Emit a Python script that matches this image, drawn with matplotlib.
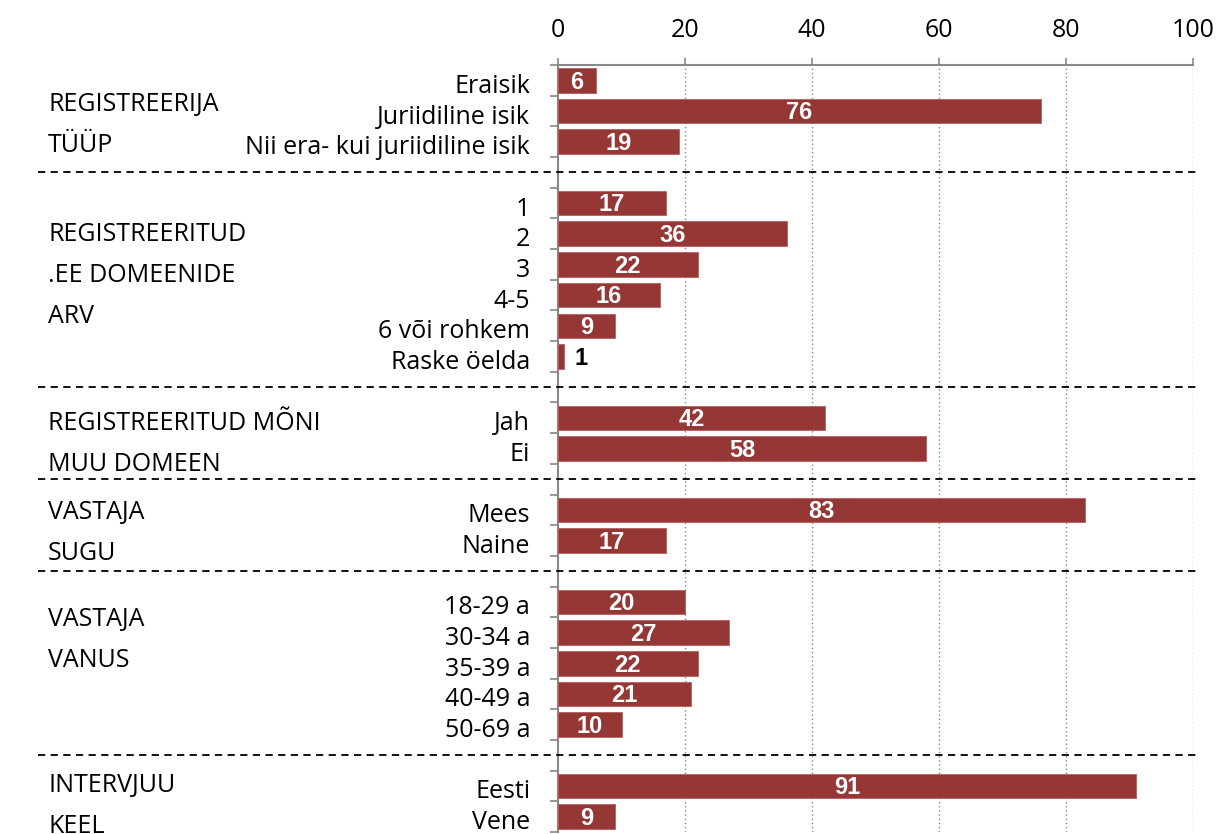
import matplotlib.pyplot as plt
import matplotlib.transforms as mtrans

# andmed: grupid, kategooriad ja protsendid
groups = [
    ["REGISTREERIJA", "TÜÜP"],
    ["REGISTREERITUD", ".EE DOMEENIDE", "ARV"],
    ["REGISTREERITUD MÕNI", "MUU DOMEEN"],
    ["VASTAJA", "SUGU"],
    ["VASTAJA", "VANUS"],
    ["INTERVJUU", "KEEL"],
]
categories = [
    ["Eraisik", "Juriidiline isik", "Nii era- kui juriidiline isik"],
    ["1", "2", "3", "4-5", "6 või rohkem", "Raske öelda"],
    ["Jah", "Ei"],
    ["Mees", "Naine"],
    ["18-29 a", "30-34 a", "35-39 a", "40-49 a", "50-69 a"],
    ["Eesti", "Vene"],
]
values = [
    [6, 76, 19],
    [17, 36, 22, 16, 9, 1],
    [42, 58],
    [83, 17],
    [20, 27, 22, 21, 10],
    [91, 9],
]
xticks = [0, 20, 40, 60, 80, 100]

# grupi pealkirja nihe (ridades) grupi keskkoha suhtes
group_shift = [0.45, -0.15, 0.35, 0.25, -0.75, 0.15]

bar_color = "#953735"
text_font = ["Open Sans", "DejaVu Sans"]
num_font = ["Liberation Sans Narrow", "Liberation Sans", "DejaVu Sans"]

fig = plt.figure(figsize=(12.17, 8.34), dpi=100)
ax = fig.add_axes([558 / 1217, 2 / 834, 635 / 1217, 767 / 834])

pos = 0
ylabels = []
ypos = []
sep_pos = []
for gi, (cats, vals) in enumerate(zip(categories, values)):
    start = pos
    for c, v in zip(cats, vals):
        ax.barh(pos, v, height=0.8, color=bar_color, edgecolor="#b5605e", linewidth=0.6, zorder=3)
        if v >= 3:
            ax.text(v / 2, pos + 0.06, str(v), ha="center", va="center", color="white",
                    fontweight="bold", fontsize=17, family=num_font, zorder=4)
        else:
            ax.text(v + 1.6, pos + 0.06, str(v), ha="left", va="center", color="black",
                    fontweight="bold", fontsize=17, family=num_font, zorder=4)
        ylabels.append(c)
        ypos.append(pos)
        pos += 1
    # grupi pealkiri vasakul
    center = (start + pos - 1) / 2 + group_shift[gi]
    lines = groups[gi]
    n = len(lines)
    for i, line in enumerate(lines):
        y = center + (i - (n - 1) / 2) * 1.337
        ax.text(-0.803, y, line, transform=ax.get_yaxis_transform(), ha="left", va="center",
                fontsize=18, family=text_font, clip_on=False)
    if gi < len(categories) - 1:
        sep_pos.append(pos)
        pos += 1

for s in sep_pos:
    ax.axhline(s, xmin=-0.819, xmax=1.004, color="black", linestyle=(0, (4, 3)),
               linewidth=1.3, clip_on=False, zorder=5)

ax.set_xlim(0, 100)
ax.set_ylim(pos - 0.5, -0.5)

ax.xaxis.tick_top()
ax.set_xticks(xticks)
ax.set_xticklabels([str(t) for t in xticks], fontsize=18, family=text_font)
ax.tick_params(axis="x", direction="out", length=5, width=1.2, color="#888888", pad=11)

ax.set_yticks(ypos)
ax.set_yticklabels(ylabels, fontsize=18, family=text_font)
ax.set_yticks([p - 0.5 for p in range(pos + 1)], minor=True)
ax.tick_params(axis="y", which="major", length=0, pad=20)
ax.tick_params(axis="y", which="minor", direction="out", length=6, width=1.2, color="#888888")

# kategooriate sildid veidi allapoole
shift = mtrans.ScaledTranslation(0, -3 / 100, fig.dpi_scale_trans)
for lbl in ax.get_yticklabels():
    lbl.set_transform(lbl.get_transform() + shift)

for t in xticks[1:]:
    ax.axvline(t, color="#888888", linestyle=(0, (1, 2)), linewidth=1.0, zorder=1)

for side in ["right", "bottom"]:
    ax.spines[side].set_visible(False)
for side in ["top", "left"]:
    ax.spines[side].set_color("#888888")
    ax.spines[side].set_linewidth(1.5)

fig.savefig("out.png", dpi=100)
